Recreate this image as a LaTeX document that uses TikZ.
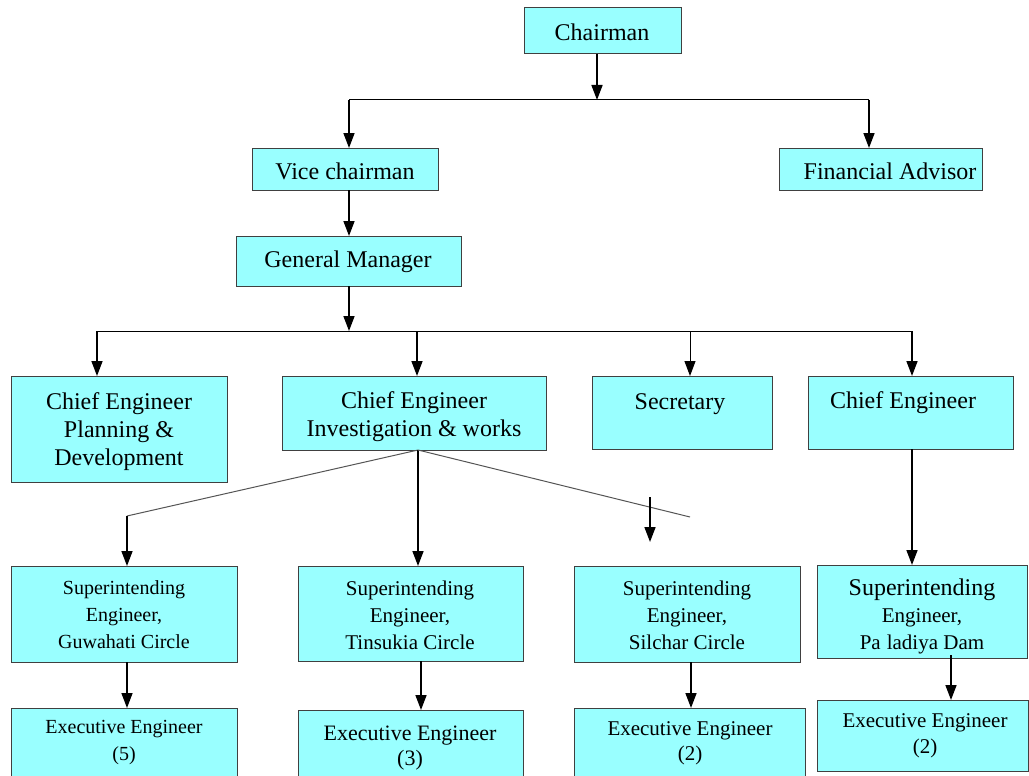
\documentclass[tikz,border=0pt]{standalone}
\usepackage{fontspec}
\setmainfont{Liberation Serif}
\usetikzlibrary{arrows.meta}
\definecolor{boxfill}{HTML}{99FFFF}
\definecolor{boxline}{HTML}{404040}
\definecolor{diagline}{HTML}{555555}
\begin{document}
\begin{tikzpicture}[x=1pt,y=-1pt,
 box/.style={draw=boxline, fill=boxfill, line width=1pt, anchor=north west, inner sep=0pt, outer sep=0pt},
 lbl/.style={align=center, inner sep=0pt, font=\fontsize{24}{28}\selectfont},
 lbls/.style={align=center, inner sep=0pt, font=\fontsize{20}{27}\selectfont},
 arr/.style={draw=black, line width=1.6pt, -{Triangle[width=11pt,length=15pt]}},
 tarr/.style={draw=black, line width=1pt, -{Triangle[width=11pt,length=15pt]}},
 link/.style={draw=black, line width=1pt},
 diag/.style={draw=diagline, line width=1pt}]
\useasboundingbox (0,0) rectangle (1029,776);
\clip (0,0) rectangle (1029,776);
\fill[white] (0,0) rectangle (1029,776);

% boxes
\node[box, minimum width=157, minimum height=46] (chair) at (524,8) {};
\node[box, minimum width=186, minimum height=42] (vc) at (252,148) {};
\node[box, minimum width=203, minimum height=42] (fa) at (779,148) {};
\node[box, minimum width=225, minimum height=50] (gm) at (236,236) {};
\node[box, minimum width=216, minimum height=106] (cepd) at (11,376) {};
\node[box, minimum width=264, minimum height=74] (ceiw) at (282,376) {};
\node[box, minimum width=180, minimum height=73] (sec) at (592,376) {};
\node[box, minimum width=205, minimum height=73] (ce) at (808,376) {};
\node[box, minimum width=226, minimum height=96] (seg) at (11,566) {};
\node[box, minimum width=225, minimum height=95] (set) at (298,566) {};
\node[box, minimum width=226, minimum height=96] (ses) at (574,566) {};
\node[box, minimum width=210, minimum height=93] (sep) at (817,565) {};
\node[box, minimum width=226, minimum height=80] (eeg) at (11,708) {};
\node[box, minimum width=225, minimum height=80] (eet) at (298,710) {};
\node[box, minimum width=231, minimum height=80] (ees) at (574,708) {};
\node[box, minimum width=211, minimum height=71] (eep) at (817,700) {};

% labels
\node[lbl] (tchair) at (602,32) {Chairman};
\node[lbl] (tvc) at (345,171) {Vice chairman};
\node[lbl] (tfa) at (890,171) {Financial Advisor};
\node[lbl] (tgm) at (348,262) {General Manager};
\node[lbl] (tcepd) at (119,432) {Chief Engineer\\Planning \&\\Development};
\node[lbl] (tceiw) at (414,417) {Chief Engineer\\Investigation \& works};
\node[lbl] (tsec) at (680,404) {Secretary};
\node[lbl] (tce) at (903,403) {Chief Engineer};
\node[lbls] (tseg) at (124,615) {Superintending\\Engineer,\\Guwahati Circle};
\node[lbls, font=\fontsize{21}{27}\selectfont] (tset) at (410,615) {Superintending\\Engineer,\\Tinsukia Circle};
\node[lbls, font=\fontsize{21}{27}\selectfont] (tses) at (687,615) {Superintending\\Engineer,\\Silchar Circle};
\node[lbls, font=\fontsize{21}{27}\selectfont] (tsep) at (922,616) {{\fontsize{24}{27}\selectfont Superintending}\\Engineer,\\Pa\hspace{6pt}ladiya Dam};
\node[lbls] (teeg) at (124,743) {Executive Engineer\\(5)};
\node[lbls, font=\fontsize{22}{25}\selectfont] (teet) at (410,748) {Executive Engineer\\(3)};
\node[lbls, font=\fontsize{21}{25}\selectfont] (tees) at (690,743) {Executive Engineer\\(2)};
\node[lbls, font=\fontsize{21}{26}\selectfont] (teep) at (925,736) {Executive Engineer\\(2)};

% connectors: top level
\coordinate (j1) at (597,100);
\coordinate (l1) at (349,100);
\coordinate (r1) at (869,100);
\draw[arr] (chair.south -| j1) -- (j1);
\draw[link] (l1) -- (r1);
\draw[arr] (l1) -- (vc.north -| l1);
\draw[arr] (r1) -- (fa.north -| r1);
\draw[arr] (vc.south -| l1) -- (gm.north -| l1);

% second level
\coordinate (j2) at (349,331);
\coordinate (l2) at (97,331);
\coordinate (b2) at (417,331);
\coordinate (c2) at (690,331);
\coordinate (r2) at (912,331);
\draw[arr] (gm.south -| j2) -- (j2);
\draw[link] (l2) -- (r2);
\draw[arr] (l2) -- (cepd.north -| l2);
\draw[arr] (b2) -- (ceiw.north -| b2);
\draw[tarr] (c2) -- (sec.north -| c2);
\draw[arr] (r2) -- (ce.north -| r2);

% from Chief Engineer Investigation & works
\coordinate (d0) at (418,450);
\coordinate (dl) at (127,516);
\coordinate (dr) at (690,517);
\draw[diag] (ceiw.south -| d0) -- (dl);
\draw[arr] (dl) -- (seg.north -| dl);
\draw[arr] (ceiw.south -| d0) -- (set.north -| d0);
\draw[diag] (ceiw.south -| d0) -- (dr);
\coordinate (fa1) at (650,497);
\coordinate (fa2) at (650,542);
\draw[arr] (fa1) -- (fa2);

% from Chief Engineer (right)
\coordinate (cex) at (912,449);
\draw[arr] (ce.south -| cex) -- (sep.north -| cex);

% superintending -> executive
\coordinate (xg) at (127,0);
\coordinate (xt) at (421,0);
\coordinate (xs) at (691,0);
\coordinate (xp) at (951,0);
\draw[arr] (seg.south -| xg) -- (eeg.north -| xg);
\draw[arr] (set.south -| xt) -- (eet.north -| xt);
\draw[arr] (ses.south -| xs) -- (ees.north -| xs);
\draw[arr] ([yshift=3pt]sep.south -| xp) -- (eep.north -| xp);
\end{tikzpicture}
\end{document}
